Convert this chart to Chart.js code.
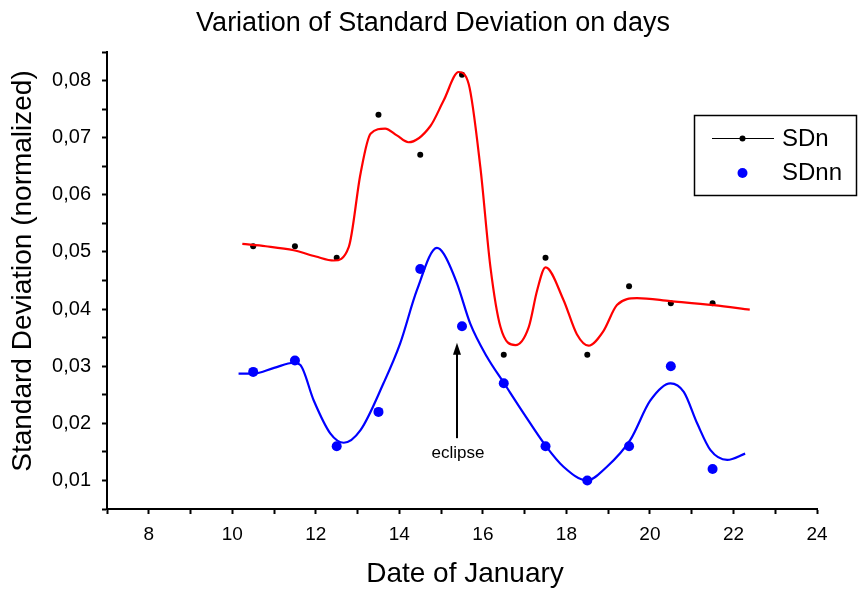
<!DOCTYPE html>
<html>
<head>
<meta charset="utf-8">
<script src="https://cdn.jsdelivr.net/npm/chart.js@4.4.0/dist/chart.umd.min.js"></script>
<style>
  html, body { margin: 0; padding: 0; background: #fff; }
  #wrap { width: 858px; height: 590px; }
</style>
</head>
<body>
<div id="wrap"><canvas id="sdChart" width="858" height="590"></canvas></div>
<script>
// measured points
var days = [10.5, 11.5, 12.5, 13.5, 14.5, 15.5, 16.5, 17.5, 18.5, 19.5, 20.5, 21.5];
var sdn = [0.051, 0.051, 0.049, 0.074, 0.067, 0.081, 0.032, 0.049, 0.032, 0.044, 0.041, 0.041];
var sdnn = [0.029, 0.031, 0.016, 0.022, 0.047, 0.037, 0.027, 0.016, 0.010, 0.016, 0.030, 0.012];

// smoothed curves
var redCurveX = [10.24, 10.8, 11.47, 12.0, 12.43, 12.79, 13.07, 13.31, 13.66, 13.94, 14.22, 14.74, 15.06, 15.42, 15.66, 15.94, 16.18, 16.42, 16.78, 17.1, 17.3, 17.5, 17.93, 18.25, 18.53, 18.89, 19.21, 19.69, 20.49, 21.53, 22.39];
var redCurveY = [0.0514, 0.0510, 0.0503, 0.0492, 0.0485, 0.0509, 0.0637, 0.0707, 0.0716, 0.0704, 0.0692, 0.0720, 0.0765, 0.0815, 0.0794, 0.0648, 0.0474, 0.0369, 0.0337, 0.0369, 0.0433, 0.0473, 0.0416, 0.0356, 0.0336, 0.0362, 0.0407, 0.0419, 0.0414, 0.0407, 0.0399];
var blueCurveX = [10.15, 10.51, 11.0, 11.47, 11.63, 11.95, 12.35, 12.67, 13.07, 13.62, 14.02, 14.42, 14.9, 15.06, 15.38, 15.7, 16.1, 16.5, 16.98, 17.5, 17.93, 18.49, 18.97, 19.53, 20.01, 20.49, 20.81, 21.13, 21.45, 21.85, 22.28];
var blueCurveY = [0.0287, 0.0287, 0.0297, 0.0306, 0.0302, 0.0240, 0.0182, 0.0166, 0.0188, 0.0270, 0.0340, 0.0433, 0.0507, 0.0497, 0.0445, 0.0374, 0.0316, 0.0271, 0.0217, 0.0161, 0.0124, 0.0100, 0.0124, 0.0171, 0.0240, 0.0270, 0.0255, 0.0200, 0.0153, 0.0136, 0.0147];

// eclipse arrow (data coords)
var eclipseX = 15.38;
var eclipseFrom = 0.0174;
var eclipseTo = 0.0341;

var FONT = "'Liberation Sans', Arial, sans-serif";

function toPoints(xs, ys) {
  return xs.map(function (x, i) { return { x: x, y: ys[i] }; });
}

var extras = {
  id: 'extras',
  afterDraw: function (chart) {
    var ctx = chart.ctx;
    var xs = chart.scales.x, ys = chart.scales.y;
    var area = chart.chartArea;
    ctx.save();
    ctx.fillStyle = '#000';
    ctx.strokeStyle = '#000';
    ctx.textBaseline = 'middle';
    ctx.textAlign = 'center';

    // titles
    ctx.font = '27px ' + FONT;
    ctx.fillText('Variation of Standard Deviation on days', 433, 24);
    ctx.font = '28px ' + FONT;
    ctx.fillText('Date of January', (area.left + area.right) / 2 + 3, 574);
    ctx.save();
    ctx.translate(23, 271);
    ctx.rotate(-Math.PI / 2);
    ctx.fillText('Standard Deviation (normalized)', 0, 0);
    ctx.restore();

    // arrow
    var ax = xs.getPixelForValue(eclipseX);
    var ay0 = ys.getPixelForValue(eclipseFrom);
    var ay1 = ys.getPixelForValue(eclipseTo);
    ctx.lineWidth = 2;
    ctx.beginPath();
    ctx.moveTo(ax, ay0);
    ctx.lineTo(ax, ay1 + 10);
    ctx.stroke();
    ctx.beginPath();
    ctx.moveTo(ax, ay1);
    ctx.lineTo(ax - 4, ay1 + 12);
    ctx.lineTo(ax + 4, ay1 + 12);
    ctx.closePath();
    ctx.fill();

    ctx.font = '17px ' + FONT;
    ctx.fillText('eclipse', ax + 1, ay0 + 15);

    // legend box
    ctx.lineWidth = 1.5;
    ctx.strokeRect(694.5, 115.5, 162, 80);
    ctx.lineWidth = 1;
    ctx.beginPath();
    ctx.moveTo(712, 138.5);
    ctx.lineTo(774, 138.5);
    ctx.stroke();
    ctx.beginPath();
    ctx.arc(742.5, 138.5, 3, 0, Math.PI * 2);
    ctx.fill();
    ctx.fillStyle = '#0000ff';
    ctx.beginPath();
    ctx.arc(742.5, 173, 5, 0, Math.PI * 2);
    ctx.fill();

    ctx.fillStyle = '#000';
    ctx.font = '24px ' + FONT;
    ctx.textAlign = 'left';
    ctx.fillText('SDn', 782, 139);
    ctx.fillText('SDnn', 782, 173);
    ctx.restore();
  }
};

var ctx = document.getElementById('sdChart').getContext('2d');
var sdChart = new Chart(ctx, {
  type: 'scatter',
  data: {
    datasets: [
      {
        label: 'SDn fit',
        data: toPoints(redCurveX, redCurveY),
        showLine: true,
        borderColor: '#ff0000',
        borderWidth: 2.2,
        pointRadius: 0,
        cubicInterpolationMode: 'monotone',
        fill: false
      },
      {
        label: 'SDnn fit',
        data: toPoints(blueCurveX, blueCurveY),
        showLine: true,
        borderColor: '#0000ff',
        borderWidth: 2.2,
        pointRadius: 0,
        cubicInterpolationMode: 'monotone',
        fill: false
      },
      {
        label: 'SDn',
        data: toPoints(days, sdn),
        pointRadius: 3,
        pointBackgroundColor: '#000',
        pointBorderWidth: 0
      },
      {
        label: 'SDnn',
        data: toPoints(days, sdnn),
        pointRadius: 5,
        pointBackgroundColor: '#0000ff',
        pointBorderWidth: 0
      }
    ]
  },
  options: {
    responsive: false,
    animation: false,
    layout: { padding: { left: 0, right: 41, top: 52, bottom: 0 } },
    plugins: {
      legend: { display: false },
      tooltip: { enabled: false },
      title: { display: false }
    },
    scales: {
      x: {
        type: 'linear',
        min: 7,
        max: 24,
        afterFit: function (scale) { scale.height = 81; },
        border: { display: true, color: '#000', width: 2 },
        grid: { drawOnChartArea: false, drawTicks: true, tickLength: 5, tickWidth: 2, tickColor: '#000' },
        ticks: {
          stepSize: 1,
          autoSkip: false,
          maxRotation: 0,
          color: '#000',
          padding: 9,
          font: { family: FONT, size: 19 },
          callback: function (value) { return value % 2 === 0 ? String(value) : ''; }
        },
        title: { display: false }
      },
      y: {
        type: 'linear',
        min: 0.005,
        max: 0.085,
        afterFit: function (scale) { scale.width = 107; },
        border: { display: true, color: '#000', width: 2 },
        grid: { drawOnChartArea: false, drawTicks: true, tickLength: 5, tickWidth: 2, tickColor: '#000' },
        ticks: {
          stepSize: 0.005,
          autoSkip: false,
          color: '#000',
          padding: 11,
          font: { family: FONT, size: 20 },
          callback: function (value) {
            var m = Math.round(value * 1000);
            return m % 10 === 0 ? (m / 1000).toFixed(2).replace('.', ',') : '';
          }
        },
        title: { display: false }
      }
    }
  },
  plugins: [extras]
});
</script>
</body>
</html>
